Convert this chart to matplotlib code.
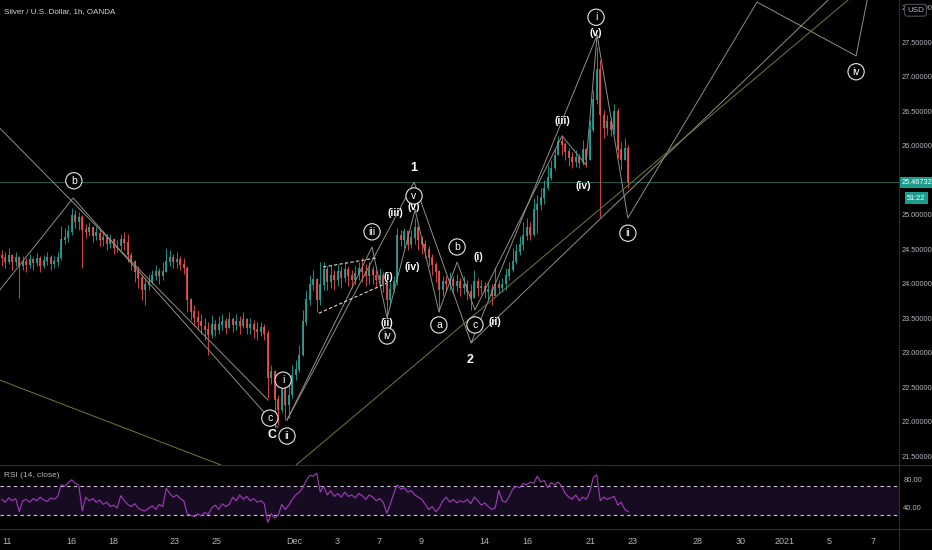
import numpy as np
import matplotlib.pyplot as plt
import matplotlib.transforms as mtransforms

plt.rcParams['font.family'] = ['Liberation Sans Narrow', 'Liberation Sans', 'DejaVu Sans']

# 4h-style candles (index = candle number), prices in USD
closes = [24.37, 24.31, 24.41, 24.31, 24.37, 24.25, 24.31, 24.27, 24.34, 24.30,
          24.36, 24.25, 24.33, 24.37, 24.28, 24.31, 24.37, 24.63, 24.66, 24.75,
          24.99, 24.89, 24.95, 24.78, 24.75, 24.81, 24.69, 24.73, 24.63, 24.66,
          24.57, 24.63, 24.52, 24.54, 24.63, 24.59, 24.41, 24.31, 24.17, 24.08,
          23.91, 23.98, 24.02, 24.11, 24.17, 24.11, 24.17, 24.31, 24.37, 24.31,
          24.34, 24.27, 24.22, 23.76, 23.59, 23.50, 23.44, 23.38, 23.33, 23.25,
          23.40, 23.33, 23.40, 23.44, 23.36, 23.47, 23.40, 23.44, 23.38, 23.47,
          23.36, 23.40, 23.33, 23.30, 23.36, 23.27, 22.63, 22.72, 22.31, 22.17,
          22.46, 22.24, 22.38, 22.67, 22.75, 22.96, 23.44, 23.76, 23.98, 24.05,
          23.76, 23.98, 24.20, 24.02, 24.12, 24.05, 24.17, 24.08, 24.20, 24.11,
          24.05, 24.14, 24.22, 24.17, 24.11, 24.20, 24.12, 24.05, 24.11, 23.99,
          23.76, 23.91, 24.02, 24.69, 24.63, 24.75, 24.56, 24.66, 24.81, 24.63,
          24.56, 24.49, 24.37, 24.27, 24.17, 23.91, 24.02, 23.99, 24.05, 23.96,
          24.02, 23.94, 23.98, 23.88, 23.79, 24.02, 23.94, 23.96, 23.88, 23.91,
          23.82, 23.98, 23.94, 23.99, 24.11, 24.20, 24.31, 24.46, 24.56, 24.69,
          24.81, 24.70, 25.07, 25.14, 25.24, 25.38, 25.53, 25.67, 25.86, 26.05,
          26.01, 25.91, 25.82, 25.76, 25.82, 25.75, 25.94, 25.79, 26.23, 26.66,
          27.10, 26.44, 26.25, 26.34, 26.23, 26.49, 25.94, 25.79, 25.96, 25.47]
highs = [24.49, 24.46, 24.51, 24.43, 24.46, 24.40, 24.40, 24.37, 24.43, 24.38,
         24.44, 24.40, 24.41, 24.46, 24.41, 24.40, 24.46, 24.83, 24.80, 24.85,
         25.09, 25.07, 25.04, 24.99, 24.86, 24.89, 24.83, 24.82, 24.78, 24.75,
         24.72, 24.72, 24.66, 24.63, 24.72, 24.75, 24.72, 24.46, 24.34, 24.25,
         24.12, 24.08, 24.14, 24.20, 24.27, 24.22, 24.31, 24.52, 24.49, 24.43,
         24.46, 24.40, 24.37, 24.25, 23.79, 23.69, 23.62, 23.56, 23.50, 23.44,
         23.54, 23.47, 23.53, 23.56, 23.50, 23.59, 23.52, 23.56, 23.53, 23.59,
         23.50, 23.50, 23.47, 23.44, 23.44, 23.41, 23.33, 22.82, 22.75, 22.39,
         22.63, 22.53, 22.53, 22.82, 22.89, 23.11, 23.62, 23.91, 24.12, 24.20,
         24.08, 24.31, 24.31, 24.25, 24.27, 24.20, 24.28, 24.25, 24.31, 24.25,
         24.20, 24.25, 24.31, 24.37, 24.28, 24.31, 24.25, 24.20, 24.22, 24.17,
         24.11, 24.05, 24.11, 24.81, 24.78, 24.81, 24.75, 24.78, 24.95, 24.83,
         24.69, 24.63, 24.54, 24.43, 24.31, 24.20, 24.11, 24.11, 24.17, 24.11,
         24.14, 24.08, 24.11, 24.05, 23.99, 24.20, 24.08, 24.05, 24.02, 24.02,
         23.99, 24.24, 24.05, 24.08, 24.22, 24.31, 24.52, 24.57, 24.69, 24.89,
         24.95, 24.89, 25.24, 25.28, 25.38, 25.50, 25.72, 25.79, 25.96, 26.14,
         26.15, 26.05, 25.96, 25.91, 25.94, 25.88, 26.08, 25.96, 26.37, 26.81,
         27.43, 27.24, 26.52, 26.44, 26.40, 26.60, 26.54, 26.05, 26.11, 26.01]
lows = [24.25, 24.22, 24.28, 24.20, 24.25, 23.79, 24.20, 24.17, 24.22, 24.20,
        24.25, 24.17, 24.22, 24.27, 24.20, 24.22, 24.25, 24.34, 24.57, 24.60,
        24.70, 24.81, 24.78, 24.22, 24.66, 24.69, 24.60, 24.63, 24.54, 24.54,
        24.49, 24.52, 24.43, 24.46, 24.49, 24.49, 24.31, 24.20, 24.02, 23.94,
        23.76, 23.69, 23.91, 23.99, 24.05, 23.99, 24.05, 24.20, 24.25, 24.22,
        24.22, 24.20, 24.14, 23.59, 23.47, 23.38, 23.33, 23.27, 23.18, 22.96,
        23.21, 23.24, 23.27, 23.33, 23.27, 23.36, 23.30, 23.33, 23.27, 23.36,
        23.27, 23.27, 23.21, 23.18, 23.24, 23.18, 22.34, 22.54, 21.91, 21.95,
        22.14, 22.02, 22.05, 22.34, 22.60, 22.72, 22.95, 23.40, 23.69, 23.91,
        23.59, 23.69, 23.91, 23.91, 23.94, 23.91, 23.96, 23.94, 24.02, 23.96,
        23.94, 23.99, 24.05, 24.02, 23.96, 23.99, 23.99, 23.94, 23.96, 23.88,
        23.52, 23.67, 23.88, 23.98, 24.54, 24.52, 24.49, 24.52, 24.57, 24.49,
        24.43, 24.37, 24.25, 24.12, 24.02, 23.59, 23.82, 23.88, 23.91, 23.85,
        23.88, 23.82, 23.85, 23.76, 23.62, 23.79, 23.82, 23.85, 23.79, 23.76,
        23.69, 23.82, 23.85, 23.88, 23.91, 24.05, 24.17, 24.28, 24.41, 24.49,
        24.63, 24.63, 24.69, 24.73, 25.07, 25.15, 25.36, 25.50, 25.65, 25.91,
        25.86, 25.79, 25.70, 25.68, 25.69, 25.68, 25.72, 25.69, 25.79, 26.20,
        26.60, 24.96, 26.11, 26.15, 26.14, 26.17, 25.82, 25.65, 25.79, 25.38]
first_open = 24.40

rsi = [52, 48, 54, 50, 53, 35, 50, 52, 48, 53, 50, 55, 51, 49, 54, 52, 56,
       72, 70, 75, 79, 74, 72, 36, 55, 50, 53, 48, 51, 45, 48, 42, 44, 40,
       57, 50, 45, 42, 46, 40, 37, 36, 40, 43, 38, 45, 42, 67, 60, 55, 58,
       53, 50, 32, 30, 28, 32, 29, 34, 31, 40, 44, 38, 46, 42, 45, 55, 50,
       58, 52, 56, 50, 53, 48, 50, 46, 20, 32, 26, 30, 45, 38, 44, 52, 58,
       62, 68, 78, 85, 84, 88, 62, 70, 58, 64, 56, 60, 55, 62, 56, 58, 54,
       60, 57, 52, 58, 55, 50, 53, 48, 33, 45, 60, 72, 66, 68, 62, 64, 58,
       55, 52, 45, 38, 42, 35, 40, 50, 55, 48, 52, 47, 50, 48, 52, 46, 55,
       50, 44, 47, 42, 38, 40, 64, 50, 48, 56, 66, 70, 68, 74, 72, 76, 74,
       84, 76, 78, 68, 75, 72, 76, 70, 60, 55, 52, 58, 50, 55, 52, 62, 82,
       86, 50, 55, 52, 54, 56, 44, 48, 38, 35]

date_pos = [1.5, 19.8, 31.8, 49.5, 61.5, 83.5, 95.8, 107.8, 119.8, 137.8,
            150.1, 168.1, 180.1, 198.9, 211.2, 223.8, 236.4, 248.9]
date_labels = ['11', '16', '18', '23', '25', 'Dec', '3', '7', '9', '14',
               '16', '21', '23', '28', '30', '2021', '5', '7']
# 25.5 sits under the last-price tag in the original, so it is not listed
price_ticks = [21.5, 22.0, 22.5, 23.0, 23.5, 24.0, 24.5, 25.0,
               26.0, 26.5, 27.0, 27.5, 28.0]
last_price = 25.46732

# wave drawings (candle index, price)
abc_x, abc_p = [-0.5, 20.4, 78.9], [23.91, 25.24, 21.91]
chan_x, chan_p = [-0.5, 76.1], [26.25, 22.31]
sub_x, sub_p = [81.5, 105.8, 110.1, 118.1], [22.02, 24.53, 23.50, 25.07]
main_x = [81.5, 117.8, 134.1, 170.1, 178.9, 215.8, 244.1, 248.4]
main_p = [22.02, 25.47, 23.14, 27.60, 24.95, 28.08, 27.30, 28.40]
corr_x, corr_p = [118.1, 124.9, 130.1, 135.2], [25.07, 23.59, 24.31, 23.62]
up_x, up_p = [135.2, 160.1, 166.9, 170.1], [23.62, 26.14, 25.72, 27.60]
trend_x, trend_p = [134.1, 236.1], [23.14, 28.11]
olive1_x, olive1_p = [84.1, 241.8], [21.37, 28.11]
olive2_x, olive2_p = [-0.5, 62.6], [22.60, 21.37]
wedge_up_x, wedge_up_p = [91.8, 106.9], [24.24, 24.37]
wedge_lo_x, wedge_lo_p = [90.6, 110.6], [23.57, 24.02]

# labels: text, x, price, style ('c' circled, 'p' plain, 'b' big)
wave_labels = [
    ('b', 20.6, 25.49, 'c'), ('c', 76.6, 22.05, 'c'), ('C', 77.2, 21.80, 'b'),
    ('i', 80.4, 22.60, 'c'), ('ii', 81.5, 21.79, 'c'), ('iii', 105.8, 24.75, 'c'),
    ('iv', 110.1, 23.24, 'c'), ('(i)', 110.6, 24.09, 'p'), ('(ii)', 110.1, 23.43, 'p'),
    ('(iii)', 112.4, 25.02, 'p'), ('(iv)', 117.2, 24.24, 'p'), ('(v)', 117.8, 25.11, 'p'),
    ('v', 117.8, 25.27, 'c'), ('1', 117.8, 25.67, 'b'), ('a', 124.9, 23.40, 'c'),
    ('b', 130.1, 24.53, 'c'), ('c', 135.2, 23.40, 'c'), ('(i)', 136.1, 24.38, 'p'),
    ('(ii)', 140.9, 23.44, 'p'), ('2', 133.8, 22.89, 'b'), ('(iii)', 160.1, 26.36, 'p'),
    ('(iv)', 166.1, 25.41, 'p'), ('(v)', 169.8, 27.63, 'p'), ('i', 169.8, 27.86, 'c'),
    ('ii', 178.9, 24.73, 'c'), ('iv', 244.1, 27.07, 'c'),
]

BG = '#000000'
TXT = '#b2b5be'
UP, DOWN = '#26a69a', '#ef5350'
LINE = '#8f8f86'
OLIVE = '#77773a'

fig = plt.figure(figsize=(9.32, 5.5), dpi=100, facecolor=BG)
ax = fig.add_axes([0, 85 / 550, 899 / 932, 465 / 550], facecolor=BG)
ax_rsi = fig.add_axes([0, 21 / 550, 899 / 932, 63 / 550], facecolor=BG)

xlim = (-0.5, 256.36)

# candles
c = np.array(closes)
o = np.concatenate([[first_open], c[:-1]])
h = np.maximum(np.array(highs), np.maximum(o, c))
l = np.minimum(np.array(lows), np.minimum(o, c))
idx = np.arange(len(c))
col = np.where(c >= o, UP, DOWN)
ax.vlines(idx, l, h, colors=col, linewidth=0.7, alpha=0.85, zorder=3)
ax.bar(idx, np.abs(c - o) + 0.01, bottom=np.minimum(o, c), width=0.6,
       color=col, edgecolor='none', alpha=0.85, zorder=3)

# last price line
ax.axhline(last_price, color='#1f6b5f', lw=0.6, zorder=1)

# drawings
for xs, ps in [(abc_x, abc_p), (chan_x, chan_p), (sub_x, sub_p), (main_x, main_p),
               (corr_x, corr_p), (up_x, up_p), (trend_x, trend_p)]:
    ax.plot(xs, ps, color=LINE, lw=0.7, zorder=4)
for xs, ps in [(olive1_x, olive1_p), (olive2_x, olive2_p)]:
    ax.plot(xs, ps, color=OLIVE, lw=0.7, zorder=4)
for xs, ps in [(wedge_up_x, wedge_up_p), (wedge_lo_x, wedge_lo_p)]:
    ax.plot(xs, ps, color='#d8d8d8', lw=0.8, ls=(0, (3, 2)), zorder=4)

for txt, x, p, kind in wave_labels:
    if kind == 'c':
        ax.text(x, p, txt, ha='center', va='center', fontsize=7.5, color='white',
                zorder=6, bbox=dict(boxstyle='circle,pad=0.3', fc=BG, ec='#e8e8e8', lw=0.8))
    elif kind == 'b':
        ax.text(x, p, txt, ha='center', va='center', fontsize=9, color='white',
                fontweight='bold', zorder=6)
    else:
        ax.text(x, p, txt, ha='center', va='center', fontsize=7.5, color='white',
                fontweight='bold', zorder=6)

ax.set_xlim(*xlim)
ax.set_ylim(21.37, 28.11)
ax.yaxis.tick_right()
ax.set_yticks(price_ticks)
ax.set_yticklabels([f'{v:.5f}' for v in price_ticks])
ax.tick_params(axis='y', colors=TXT, labelsize=5.3, length=0, pad=2)
ax.set_xticks([])
for s in ax.spines.values():
    s.set_visible(False)

ax.text(0.004, 0.975, 'Silver / U.S. Dollar, 1h, OANDA', transform=ax.transAxes,
        fontsize=5.8, color='#d1d4dc', va='center', ha='left')

# price label boxes
trans = mtransforms.blended_transform_factory(ax.transAxes, ax.transData)
ax.text(1.003, last_price, '25.46732', transform=trans, fontsize=5.3, color='white',
        va='center', ha='left', zorder=8, clip_on=False,
        bbox=dict(boxstyle='square,pad=0.3', fc='#1d9c8c', ec='none'))
ax.text(1.009, last_price - 0.23, '51:22', transform=trans, fontsize=5.3, color='white',
        va='center', ha='left', zorder=8, clip_on=False,
        bbox=dict(boxstyle='square,pad=0.3', fc='#1d9c8c', ec='none'))
ax.text(1.009, 0.978, 'USD', transform=ax.transAxes, fontsize=5.8, color=TXT,
        va='center', ha='left', zorder=8, clip_on=False,
        bbox=dict(boxstyle='round,pad=0.3', fc=BG, ec='#555a66', lw=0.7))

# RSI pane
ax_rsi.axhspan(30, 70, color='#170b22', zorder=0)
ax_rsi.axhline(70, color='#c8c8c8', lw=0.8, ls=(0, (3, 3)))
ax_rsi.axhline(30, color='#c8c8c8', lw=0.8, ls=(0, (3, 3)))
ax_rsi.plot(idx, rsi, color='#a23bbd', lw=0.8, zorder=3)
ax_rsi.set_xlim(*xlim)
ax_rsi.set_ylim(11, 98)
ax_rsi.yaxis.tick_right()
ax_rsi.set_yticks([40, 80])
ax_rsi.set_yticklabels(['40.00', '80.00'])
ax_rsi.tick_params(axis='y', colors=TXT, labelsize=5.5, length=0, pad=3)
ax_rsi.set_xticks(date_pos)
ax_rsi.set_xticklabels(date_labels)
ax_rsi.tick_params(axis='x', colors=TXT, labelsize=6.5, length=0, pad=6)
for s in ax_rsi.spines.values():
    s.set_visible(False)
ax_rsi.text(0.004, 0.85, 'RSI (14, close)', transform=ax_rsi.transAxes,
            fontsize=6, color=TXT, va='center', ha='left')

# pane separators
sep = '#2a2e39'
fig.add_artist(plt.Line2D([0, 1], [85 / 550, 85 / 550], color=sep, lw=0.8))
fig.add_artist(plt.Line2D([0, 1], [21 / 550, 21 / 550], color=sep, lw=0.8))
fig.add_artist(plt.Line2D([899 / 932, 899 / 932], [0, 1], color=sep, lw=0.8))

fig.savefig('out.png', dpi=100, facecolor=BG)
